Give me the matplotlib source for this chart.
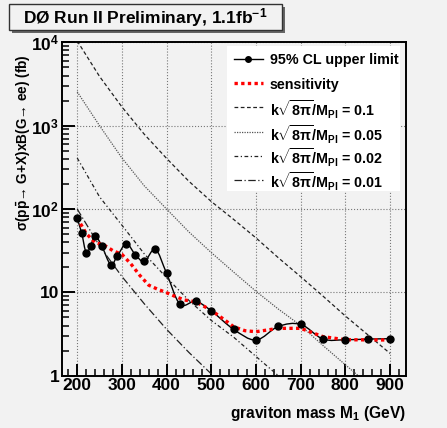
import numpy as np
import matplotlib
matplotlib.use('Agg')
import matplotlib.pyplot as plt
from matplotlib.path import Path
from matplotlib.patches import PathPatch, Rectangle
from matplotlib.lines import Line2D
from matplotlib.ticker import AutoMinorLocator, LogLocator, NullFormatter

plt.rcParams['font.family'] = ['Liberation Sans', 'DejaVu Sans']
plt.rcParams['font.weight'] = 'bold'
plt.rcParams['mathtext.fontset'] = 'custom'
plt.rcParams['mathtext.rm'] = 'Liberation Sans:bold'
plt.rcParams['mathtext.it'] = 'Liberation Sans:bold'
plt.rcParams['mathtext.bf'] = 'Liberation Sans:bold'
plt.rcParams['mathtext.sf'] = 'Liberation Sans:bold'

# 95% CL observed limit (fb)
mass_lim = [200, 210, 220, 230, 240, 255, 275, 290, 310, 330, 350, 375, 400,
            430, 465, 500, 550, 600, 650, 700, 750, 800, 850, 900]
xsec_lim = [77, 51.5, 30, 36, 48, 36, 21.5, 27.5, 38.4, 28.3, 23.5, 32.8, 16.9,
            7.2, 7.8, 6.0, 3.6, 2.68, 3.9, 4.13, 2.75, 2.7, 2.75, 2.78]

# expected limit (sensitivity)
mass_sens = [200, 220, 240, 260, 280, 300, 320, 340, 360, 380, 400, 420, 440,
             465, 500, 530, 550, 575, 600, 650, 700, 750, 800, 900]
xsec_sens = [78, 51, 39.5, 37, 31.6, 28.6, 22, 16, 12.2, 10.9, 9.9, 8.9, 8.1,
             7.7, 6.1, 4.66, 3.87, 3.47, 3.37, 3.7, 3.7, 2.94, 2.7, 2.68]

# RS graviton predictions
mass_th = [200, 250, 300, 350, 400, 450, 500, 550, 600, 650, 700, 750, 800, 850, 900]
rs_010 = [10400, 3900, 1680, 790, 405, 215, 123, 75, 45, 26, 15.4, 9.0, 5.2, 3.1, 1.85]
rs_005 = [2550, 1000, 410, 190, 100, 53, 30, 17.5, 10.3, 6.3, 4.0, 2.3, 1.35, 0.8, 0.48]
rs_002 = [410, 140, 64, 29, 15, 8.0, 4.6, 2.9, 1.7, 1.0, 0.6, 0.36, 0.21, 0.13, 0.08]
rs_001 = [100, 36, 15.5, 7.3, 3.6, 1.9, 1.05, 0.6, 0.36, 0.22, 0.13, 0.08, 0.05, 0.03, 0.02]

legend_labels = [
    '95% CL upper limit',
    'sensitivity',
    r'k$\sqrt{8\pi}$/M$_{\mathrm{Pl}}$ = 0.1',
    r'k$\sqrt{8\pi}$/M$_{\mathrm{Pl}}$ = 0.05',
    r'k$\sqrt{8\pi}$/M$_{\mathrm{Pl}}$ = 0.02',
    r'k$\sqrt{8\pi}$/M$_{\mathrm{Pl}}$ = 0.01',
]

bg = '#f2f2f2'


def smooth_path(xs, ys):
    # Catmull-Rom through the points, drawn as bezier segments in (x, log y)
    p = np.column_stack([xs, np.log10(ys)])
    pp = np.vstack([p[0], p, p[-1]])
    verts = [p[0]]
    codes = [Path.MOVETO]
    for i in range(1, len(pp) - 2):
        c1 = pp[i] + (pp[i + 1] - pp[i - 1]) / 6.0
        c2 = pp[i + 1] - (pp[i + 2] - pp[i]) / 6.0
        verts += [c1, c2, pp[i + 1]]
        codes += [Path.CURVE4] * 3
    verts = np.array(verts)
    verts[:, 1] = 10 ** verts[:, 1]
    return Path(verts, codes)


fig = plt.figure(figsize=(4.47, 4.28), dpi=100, facecolor=bg)
ax = fig.add_axes([0.1387, 0.1222, 0.769, 0.7797], facecolor=bg)
ax.set_yscale('log')
ax.set_xlim(166, 935)
ax.set_ylim(1, 10100)

ax.grid(True, which='major', color='#777777', linestyle=':', linewidth=0.8)
ax.set_axisbelow(True)

lw_th = 0.9
styles = [
    dict(color='#222222', lw=lw_th, linestyle=(0, (3, 2))),
    dict(color='#555555', lw=lw_th, linestyle=(0, (1, 1))),
    dict(color='#222222', lw=lw_th, linestyle=(0, (3, 2, 1, 2))),
    dict(color='#222222', lw=lw_th, linestyle=(0, (6, 2, 1, 2))),
]
for ys, st in zip([rs_010, rs_005, rs_002, rs_001], styles):
    ax.plot(mass_th, ys, **st)

sens_style = dict(color='red', lw=2.4, linestyle=(0, (1, 1)))
ax.plot(mass_sens, xsec_sens, **sens_style)

ax.add_patch(PathPatch(smooth_path(mass_lim, xsec_lim), facecolor='none',
                       edgecolor='black', lw=1.0))
ax.plot(mass_lim, xsec_lim, 'o', color='black', ms=5, zorder=5)

# axes styling
for s in ax.spines.values():
    s.set_linewidth(1.4)
ax.xaxis.set_minor_locator(AutoMinorLocator(5))
ax.yaxis.set_minor_locator(LogLocator(base=10, subs=np.arange(2, 10)))
ax.yaxis.set_minor_formatter(NullFormatter())
ax.tick_params(which='both', direction='in', top=False, right=False)
ax.tick_params(which='major', length=9, width=1.4, labelsize=12.5, pad=2)
ax.tick_params(which='minor', length=5, width=1.1)
ax.set_xticks([200, 300, 400, 500, 600, 700, 800, 900])
ax.set_yticks([1, 10, 100, 1000, 10000],
              labels=['1', '10', r'10$^{2}$', r'10$^{3}$', r'10$^{4}$'])
for lab in ax.get_xticklabels() + ax.get_yticklabels():
    lab.set_fontweight('bold')

ax.set_xlabel(r'graviton mass M$_{1}$ (GeV)', fontsize=11.2, fontweight='bold')
ax.xaxis.set_label_coords(1.0, -0.085)
ax.xaxis.label.set_horizontalalignment('right')
ax.set_ylabel(r'σ(p$\bar{\mathrm{p}}$→ G+X)xB(G→ ee) (fb)', fontsize=9.8,
              fontweight='bold')
ax.yaxis.set_label_coords(-0.085, 0.70)

# legend, laid out by hand so the rows are evenly spaced
ax.add_patch(Rectangle((0.480, 0.553), 0.503, 0.435, transform=ax.transAxes,
                       facecolor='white', edgecolor='none', zorder=6))
row_y = [0.950, 0.876, 0.804, 0.729, 0.658, 0.586]
handle_styles = [dict(color='black', lw=1.0)] + [sens_style] + styles
for i, (yy, lab, st) in enumerate(zip(row_y, legend_labels, handle_styles)):
    ax.add_line(Line2D([0.500, 0.585], [yy, yy], transform=ax.transAxes,
                       zorder=7, **st))
    if i == 0:
        ax.add_line(Line2D([0.5425], [yy], transform=ax.transAxes, marker='o',
                           ms=4, color='black', zorder=7))
    ax.text(0.605, yy, lab, transform=ax.transAxes, fontsize=10.3,
            fontweight='bold', va='center_baseline', ha='left', zorder=8)

# title box with shadow
fig.patches.append(Rectangle((12 / 447, 1 - 33 / 428), 273 / 447, 26 / 428,
                             transform=fig.transFigure, facecolor='#666666',
                             edgecolor='none'))
fig.patches.append(Rectangle((9 / 447, 1 - 30 / 428), 273 / 447, 26 / 428,
                             transform=fig.transFigure, facecolor=bg,
                             edgecolor='#333333', lw=1.0))
fig.text(145.5 / 447, 1 - 17.5 / 428, r'DØ Run II Preliminary, 1.1fb$^{-1}$',
         ha='center', va='center', fontsize=12.5, fontweight='bold')

fig.savefig('out.png', dpi=100, facecolor=bg)
